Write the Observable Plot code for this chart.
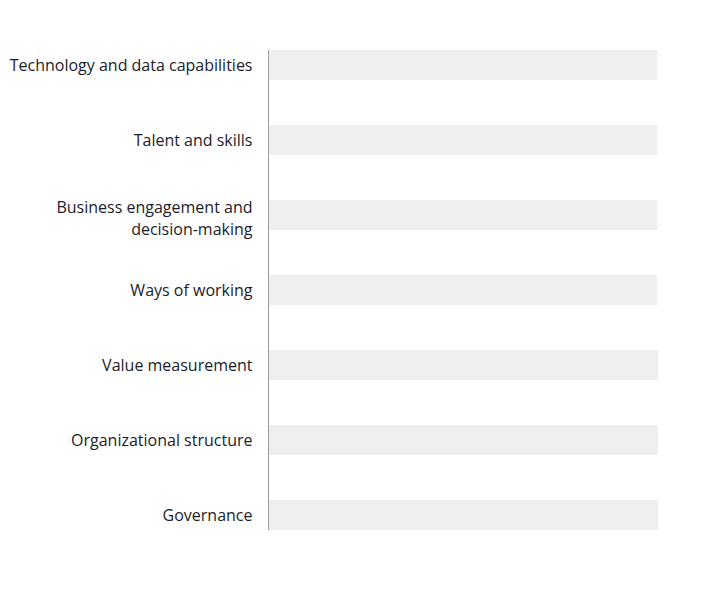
<!DOCTYPE html>
<html>
<head>
<meta charset="utf-8">
<script src="https://cdn.jsdelivr.net/npm/d3@7"></script>
<script src="https://cdn.jsdelivr.net/npm/@observablehq/plot@0.6"></script>
<style>
  body { margin: 0; background: #fff; }
  #chart svg { display: block; }
</style>
</head>
<body>
<div id="chart"></div>
<script>
const categories = [
  "Technology and data capabilities",
  "Talent and skills",
  "Business engagement and decision-making",
  "Ways of working",
  "Value measurement",
  "Organizational structure",
  "Governance"
];
const labels = [
  "Technology and data capabilities",
  "Talent and skills",
  "Business engagement and\ndecision-making",
  "Ways of working",
  "Value measurement",
  "Organizational structure",
  "Governance"
];
const backgroundValues = [99.8, 99.8, 99.8, 99.8, 100, 100, 100];
const values = [0, 0, 0, 0, 0, 0, 0];

const data = categories.map((c, i) => ({category: c, label: labels[i], bg: backgroundValues[i], value: values[i]}));
const labelOf = new Map(categories.map((c, i) => [c, labels[i]]));
const singleLine = categories.filter((c, i) => !labels[i].includes("\n"));
const multiLine = categories.filter((c, i) => labels[i].includes("\n"));

const axisStyle = {tickSize: 0, tickPadding: 16, tickFormat: d => labelOf.get(d), lineHeight: 1.375, fontSize: 16, fill: "#1c1c2a"};

const chart = Plot.plot({
  width: 720,
  height: 590,
  marginTop: 50,
  marginBottom: 60,
  marginLeft: 268,
  marginRight: 62,
  style: {fontFamily: "'Open Sans', sans-serif", fontSize: "16px", color: "#1c1c2a", background: "#fff"},
  x: {domain: [0, 100], axis: null},
  y: {domain: categories, paddingInner: 0.6, paddingOuter: 0, label: null},
  marks: [
    Plot.barX(data, {y: "category", x1: 0, x2: "bg", fill: "#efefef", insetLeft: 1}),
    Plot.barX(data, {y: "category", x1: 0, x2: "value", fill: "#1f40e6", insetLeft: 1}),
    Plot.ruleX([0], {stroke: "#999", strokeWidth: 1}),
    Plot.axisY({...axisStyle, ticks: singleLine, dy: -1.5}),
    Plot.axisY({...axisStyle, ticks: multiLine, dy: 1.5})
  ]
});
document.getElementById("chart").append(chart);
</script>
</body>
</html>
